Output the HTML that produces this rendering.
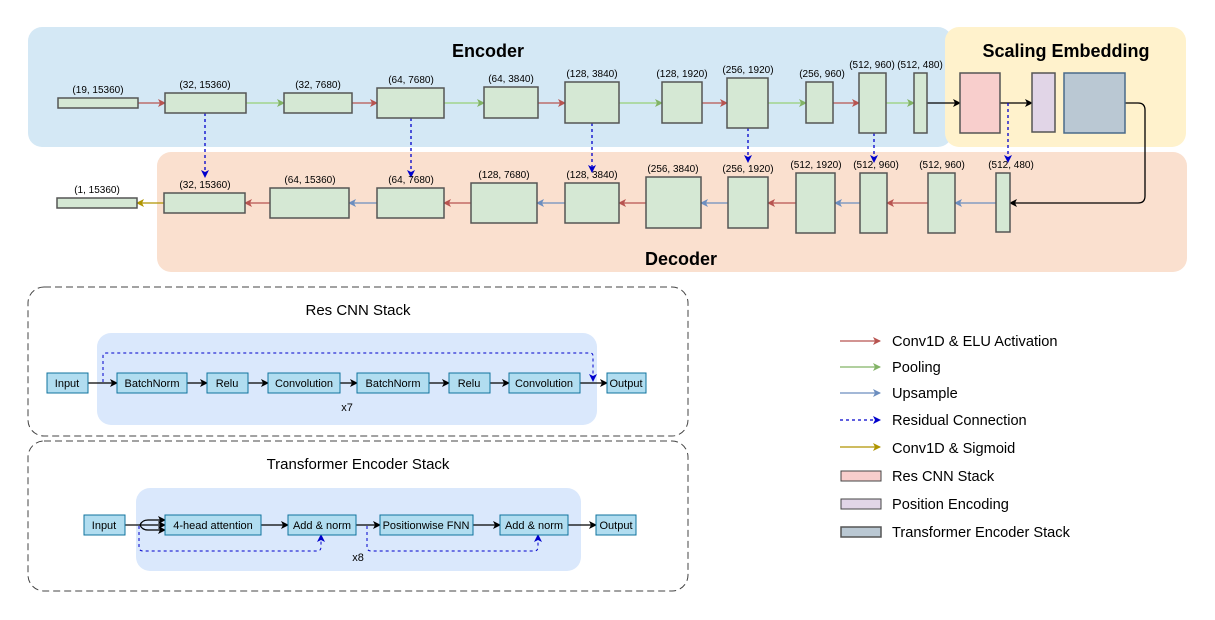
<!DOCTYPE html>
<html><head><meta charset="utf-8"><style>
html,body{margin:0;padding:0;background:#fff}
svg{display:block;font-family:"Liberation Sans",Arial,sans-serif}
.g{fill:#d5e8d4;stroke:#555;stroke-width:1.5}
.l{font-size:10px;text-anchor:middle;fill:#000}
.b{fill:#b1ddf0;stroke:#10739e;stroke-width:1}
.bt{font-size:11px;text-anchor:middle;fill:#000}
.lg{font-size:14.6px;fill:#000}
</style></head><body>
<svg width="1215" height="620" viewBox="0 0 1215 620" xmlns="http://www.w3.org/2000/svg">
<defs>
<marker id="mr" markerWidth="8" markerHeight="8" refX="7" refY="4" orient="auto" markerUnits="userSpaceOnUse"><path d="M0,0 L8,4 L0,8 L2,4z" fill="#b85450"/></marker>
<marker id="mg" markerWidth="8" markerHeight="8" refX="7" refY="4" orient="auto" markerUnits="userSpaceOnUse"><path d="M0,0 L8,4 L0,8 L2,4z" fill="#82b366"/></marker>
<marker id="mb" markerWidth="8" markerHeight="8" refX="7" refY="4" orient="auto" markerUnits="userSpaceOnUse"><path d="M0,0 L8,4 L0,8 L2,4z" fill="#6c8ebf"/></marker>
<marker id="md" markerWidth="8" markerHeight="8" refX="7" refY="4" orient="auto" markerUnits="userSpaceOnUse"><path d="M0,0 L8,4 L0,8 L2,4z" fill="#0000cc"/></marker>
<marker id="my" markerWidth="8" markerHeight="8" refX="7" refY="4" orient="auto" markerUnits="userSpaceOnUse"><path d="M0,0 L8,4 L0,8 L2,4z" fill="#b09500"/></marker>
<marker id="mk" markerWidth="8" markerHeight="8" refX="7" refY="4" orient="auto" markerUnits="userSpaceOnUse"><path d="M0,0 L8,4 L0,8 L2,4z" fill="#000"/></marker>
</defs>
<rect x="28" y="27" width="924" height="120" rx="14" fill="#d4e8f5"/>
<rect x="945" y="27" width="241" height="120" rx="14" fill="#fff2cc"/>
<rect x="157" y="152" width="1030" height="120" rx="14" fill="#fae0cf"/>
<text x="488" y="57" font-size="18" font-weight="bold" text-anchor="middle">Encoder</text>
<text x="1066" y="57" font-size="18" font-weight="bold" text-anchor="middle">Scaling Embedding</text>
<text x="681" y="265" font-size="18" font-weight="bold" text-anchor="middle">Decoder</text>
<g stroke-width="1.3" fill="none">
<line x1="138" y1="103" x2="165" y2="103" stroke="#b85450" marker-end="url(#mr)"/>
<line x1="246" y1="103" x2="284" y2="103" stroke="#97d077" marker-end="url(#mg)"/>
<line x1="352" y1="103" x2="377" y2="103" stroke="#b85450" marker-end="url(#mr)"/>
<line x1="444" y1="103" x2="484" y2="103" stroke="#97d077" marker-end="url(#mg)"/>
<line x1="538" y1="103" x2="565" y2="103" stroke="#b85450" marker-end="url(#mr)"/>
<line x1="619" y1="103" x2="662" y2="103" stroke="#97d077" marker-end="url(#mg)"/>
<line x1="702" y1="103" x2="727" y2="103" stroke="#b85450" marker-end="url(#mr)"/>
<line x1="768" y1="103" x2="806" y2="103" stroke="#97d077" marker-end="url(#mg)"/>
<line x1="833" y1="103" x2="859" y2="103" stroke="#b85450" marker-end="url(#mr)"/>
<line x1="886" y1="103" x2="914" y2="103" stroke="#97d077" marker-end="url(#mg)"/>
<line x1="927" y1="103" x2="960" y2="103" stroke="#000" marker-end="url(#mk)"/>
<line x1="1000" y1="103" x2="1032" y2="103" stroke="#000" marker-end="url(#mk)"/>
<path d="M1125,103 H1138 Q1145,103 1145,110 V196 Q1145,203 1138,203 H1010" stroke="#000" marker-end="url(#mk)"/>
<line x1="996" y1="203" x2="955" y2="203" stroke="#6c8ebf" marker-end="url(#mb)"/>
<line x1="928" y1="203" x2="887" y2="203" stroke="#b85450" marker-end="url(#mr)"/>
<line x1="860" y1="203" x2="835" y2="203" stroke="#6c8ebf" marker-end="url(#mb)"/>
<line x1="796" y1="203" x2="768" y2="203" stroke="#b85450" marker-end="url(#mr)"/>
<line x1="728" y1="203" x2="701" y2="203" stroke="#6c8ebf" marker-end="url(#mb)"/>
<line x1="646" y1="203" x2="619" y2="203" stroke="#b85450" marker-end="url(#mr)"/>
<line x1="565" y1="203" x2="537" y2="203" stroke="#6c8ebf" marker-end="url(#mb)"/>
<line x1="471" y1="203" x2="444" y2="203" stroke="#b85450" marker-end="url(#mr)"/>
<line x1="377" y1="203" x2="349" y2="203" stroke="#6c8ebf" marker-end="url(#mb)"/>
<line x1="270" y1="203" x2="245" y2="203" stroke="#b85450" marker-end="url(#mr)"/>
<line x1="164" y1="203" x2="137" y2="203" stroke="#b09500" marker-end="url(#my)"/>
<g stroke="#0000cc" stroke-dasharray="3,3">
<line x1="205" y1="113" x2="205" y2="177" marker-end="url(#md)"/>
<line x1="411" y1="118" x2="411" y2="177" marker-end="url(#md)"/>
<line x1="592" y1="123" x2="592" y2="172" marker-end="url(#md)"/>
<line x1="748" y1="128" x2="748" y2="162" marker-end="url(#md)"/>
<line x1="874" y1="133" x2="874" y2="162" marker-end="url(#md)"/>
<line x1="1008" y1="103" x2="1008" y2="162" marker-end="url(#md)"/>
</g>
</g>
<rect class="g" x="58" y="98" width="80" height="10"/><text class="l" x="98" y="93">(19, 15360)</text>
<rect class="g" x="165" y="93" width="81" height="20"/><text class="l" x="205" y="88">(32, 15360)</text>
<rect class="g" x="284" y="93" width="68" height="20"/><text class="l" x="318" y="88">(32, 7680)</text>
<rect class="g" x="377" y="88" width="67" height="30"/><text class="l" x="411" y="83">(64, 7680)</text>
<rect class="g" x="484" y="87" width="54" height="31"/><text class="l" x="511" y="82">(64, 3840)</text>
<rect class="g" x="565" y="82" width="54" height="41"/><text class="l" x="592" y="77">(128, 3840)</text>
<rect class="g" x="662" y="82" width="40" height="41"/><text class="l" x="682" y="77">(128, 1920)</text>
<rect class="g" x="727" y="78" width="41" height="50"/><text class="l" x="748" y="73">(256, 1920)</text>
<rect class="g" x="806" y="82" width="27" height="41"/><text class="l" x="822" y="77">(256, 960)</text>
<rect class="g" x="859" y="73" width="27" height="60"/><text class="l" x="872" y="68">(512, 960)</text>
<rect class="g" x="914" y="73" width="13" height="60"/><text class="l" x="920" y="68">(512, 480)</text>
<rect x="960" y="73" width="40" height="60" fill="#f8cecc" stroke="#555" stroke-width="1.5"/>
<rect x="1032" y="73" width="23" height="59" fill="#e1d5e7" stroke="#555" stroke-width="1.5"/>
<rect x="1064" y="73" width="61" height="60" fill="#bac8d3" stroke="#4a6a8a" stroke-width="1.5"/>
<rect class="g" x="996" y="173" width="14" height="59"/><text class="l" x="1011" y="168">(512, 480)</text>
<rect class="g" x="928" y="173" width="27" height="60"/><text class="l" x="942" y="168">(512, 960)</text>
<rect class="g" x="860" y="173" width="27" height="60"/><text class="l" x="876" y="168">(512, 960)</text>
<rect class="g" x="796" y="173" width="39" height="60"/><text class="l" x="816" y="168">(512, 1920)</text>
<rect class="g" x="728" y="177" width="40" height="51"/><text class="l" x="748" y="172">(256, 1920)</text>
<rect class="g" x="646" y="177" width="55" height="51"/><text class="l" x="673" y="172">(256, 3840)</text>
<rect class="g" x="565" y="183" width="54" height="40"/><text class="l" x="592" y="178">(128, 3840)</text>
<rect class="g" x="471" y="183" width="66" height="40"/><text class="l" x="504" y="178">(128, 7680)</text>
<rect class="g" x="377" y="188" width="67" height="30"/><text class="l" x="411" y="183">(64, 7680)</text>
<rect class="g" x="270" y="188" width="79" height="30"/><text class="l" x="310" y="183">(64, 15360)</text>
<rect class="g" x="164" y="193" width="81" height="20"/><text class="l" x="205" y="188">(32, 15360)</text>
<rect class="g" x="57" y="198" width="80" height="10"/><text class="l" x="97" y="193">(1, 15360)</text>

<rect x="28" y="287" width="660" height="149" rx="16" fill="none" stroke="#444" stroke-dasharray="7,4"/>
<text x="358" y="315" font-size="15" text-anchor="middle">Res CNN Stack</text>
<rect x="97" y="333" width="500" height="92" rx="14" fill="#dae8fc"/>
<g stroke="#000" stroke-width="1.2">
<line x1="88" y1="383" x2="117" y2="383" marker-end="url(#mk)"/>
<line x1="187" y1="383" x2="207" y2="383" marker-end="url(#mk)"/>
<line x1="248" y1="383" x2="268" y2="383" marker-end="url(#mk)"/>
<line x1="340" y1="383" x2="357" y2="383" marker-end="url(#mk)"/>
<line x1="429" y1="383" x2="449" y2="383" marker-end="url(#mk)"/>
<line x1="490" y1="383" x2="509" y2="383" marker-end="url(#mk)"/>
<line x1="580" y1="383" x2="607" y2="383" marker-end="url(#mk)"/>
</g>
<path d="M103,382 V356 Q103,353 106,353 H590 Q593,353 593,356 V381" fill="none" stroke="#0000cc" stroke-dasharray="3,3" marker-end="url(#md)"/>
<rect class="b" x="47" y="373" width="41" height="20"/><text class="bt" x="67" y="387">Input</text>
<rect class="b" x="117" y="373" width="70" height="20"/><text class="bt" x="152" y="387">BatchNorm</text>
<rect class="b" x="207" y="373" width="41" height="20"/><text class="bt" x="227" y="387">Relu</text>
<rect class="b" x="268" y="373" width="72" height="20"/><text class="bt" x="304" y="387">Convolution</text>
<rect class="b" x="357" y="373" width="72" height="20"/><text class="bt" x="393" y="387">BatchNorm</text>
<rect class="b" x="449" y="373" width="41" height="20"/><text class="bt" x="469" y="387">Relu</text>
<rect class="b" x="509" y="373" width="71" height="20"/><text class="bt" x="544" y="387">Convolution</text>
<rect class="b" x="607" y="373" width="39" height="20"/><text class="bt" x="626" y="387">Output</text>
<text class="bt" x="347" y="411">x7</text>

<rect x="28" y="441" width="660" height="150" rx="16" fill="none" stroke="#444" stroke-dasharray="7,4"/>
<text x="358" y="469" font-size="15" text-anchor="middle">Transformer Encoder Stack</text>
<rect x="136" y="488" width="445" height="83" rx="14" fill="#dae8fc"/>
<g stroke="#000" stroke-width="1.2" fill="none">
<line x1="125" y1="525" x2="140" y2="525"/>
<path d="M140,525 Q142,520 148,520 H165" marker-end="url(#mk)"/>
<line x1="140" y1="525" x2="165" y2="525" marker-end="url(#mk)"/>
<path d="M140,525 Q142,530 148,530 H165" marker-end="url(#mk)"/>
<line x1="261" y1="525" x2="288" y2="525" marker-end="url(#mk)"/>
<line x1="356" y1="525" x2="380" y2="525" marker-end="url(#mk)"/>
<line x1="473" y1="525" x2="500" y2="525" marker-end="url(#mk)"/>
<line x1="568" y1="525" x2="596" y2="525" marker-end="url(#mk)"/>
</g>
<g fill="none" stroke="#0000cc" stroke-dasharray="3,3">
<path d="M139,526 V547 Q139,551 143,551 H317 Q321,551 321,547 V535" marker-end="url(#md)"/>
<path d="M367,526 V547 Q367,551 371,551 H534 Q538,551 538,547 V535" marker-end="url(#md)"/>
</g>
<rect class="b" x="84" y="515" width="41" height="20"/><text class="bt" x="104" y="529">Input</text>
<rect class="b" x="165" y="515" width="96" height="20"/><text class="bt" x="213" y="529">4-head attention</text>
<rect class="b" x="288" y="515" width="68" height="20"/><text class="bt" x="322" y="529">Add &amp; norm</text>
<rect class="b" x="380" y="515" width="93" height="20"/><text class="bt" x="426" y="529">Positionwise FNN</text>
<rect class="b" x="500" y="515" width="68" height="20"/><text class="bt" x="534" y="529">Add &amp; norm</text>
<rect class="b" x="596" y="515" width="40" height="20"/><text class="bt" x="616" y="529">Output</text>
<text class="bt" x="358" y="561">x8</text>

<g stroke-width="1.3">
<line x1="840" y1="341" x2="880" y2="341" stroke="#b85450" marker-end="url(#mr)"/>
<line x1="840" y1="367" x2="880" y2="367" stroke="#82b366" marker-end="url(#mg)"/>
<line x1="840" y1="393" x2="880" y2="393" stroke="#6c8ebf" marker-end="url(#mb)"/>
<line x1="840" y1="420" x2="880" y2="420" stroke="#0000cc" stroke-dasharray="3,3" marker-end="url(#md)"/>
<line x1="840" y1="447" x2="880" y2="447" stroke="#b09500" marker-end="url(#my)"/>
</g>
<rect x="841" y="471" width="40" height="10" fill="#f8cecc" stroke="#444"/>
<rect x="841" y="499" width="40" height="10" fill="#e1d5e7" stroke="#444"/>
<rect x="841" y="527" width="40" height="10" fill="#bac8d3" stroke="#555" stroke-width="1.5"/>
<text class="lg" x="892" y="346">Conv1D &amp; ELU Activation</text>
<text class="lg" x="892" y="372">Pooling</text>
<text class="lg" x="892" y="398">Upsample</text>
<text class="lg" x="892" y="425">Residual Connection</text>
<text class="lg" x="892" y="453">Conv1D &amp; Sigmoid</text>
<text class="lg" x="892" y="481">Res CNN Stack</text>
<text class="lg" x="892" y="509">Position Encoding</text>
<text class="lg" x="892" y="537">Transformer Encoder Stack</text>
</svg>
</body></html>
